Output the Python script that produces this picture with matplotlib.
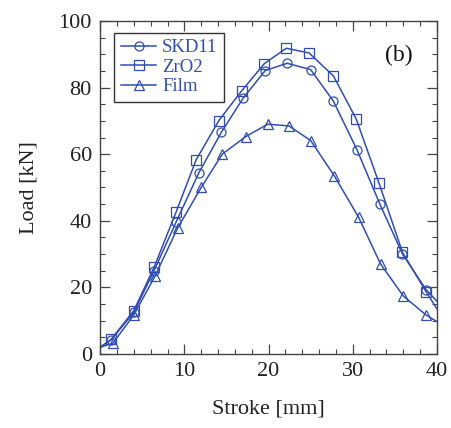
import matplotlib
matplotlib.use("Agg")
import matplotlib.pyplot as plt
from matplotlib.ticker import MultipleLocator

# stroke [mm] and load [kN] (first / last entries are line ends)
skd11_x = [0, 1.3, 4.0, 6.4, 9.0, 11.7, 14.4, 17.0, 19.6, 22.2, 25.0, 27.7, 30.5, 33.2, 35.9, 38.7, 40]
skd11_y = [2.0, 4.2, 12.5, 25.0, 39.5, 54.3, 66.6, 76.9, 85.1, 87.3, 85.4, 75.9, 61.3, 45.1, 30.0, 19.3, 15.8]

zro2_x = [0, 1.3, 4.0, 6.4, 9.0, 11.4, 14.1, 16.8, 19.5, 22.1, 24.8, 27.7, 30.4, 33.1, 35.9, 38.7, 40]
zro2_y = [2.0, 4.4, 13.0, 26.0, 42.5, 58.3, 70.1, 79.0, 87.2, 91.8, 90.4, 83.5, 70.6, 51.4, 30.5, 18.7, 13.5]

film_x = [0, 1.5, 4.0, 6.5, 9.2, 12.0, 14.5, 17.3, 19.9, 22.4, 25.0, 27.8, 30.7, 33.3, 36.0, 38.7, 40]
film_y = [2.0, 3.2, 11.7, 23.3, 37.8, 50.0, 60.0, 65.3, 69.0, 68.5, 64.1, 53.5, 41.0, 27.0, 17.4, 11.7, 9.7]

labels = ["SKD11", "ZrO2", "Film"]

blue = "#2f4db3"
plt.rcParams["font.family"] = ["Liberation Serif", "DejaVu Serif"]

fig = plt.figure(figsize=(4.51, 4.28), dpi=100)
ax = fig.add_axes([0.222, 0.173, 0.747, 0.778])

marks = slice(1, -1)
ax.plot(skd11_x, skd11_y, color=blue, lw=1.1, marker="o", ms=6.5, mfc="none",
        mec=blue, mew=0.9, markevery=marks, label=labels[0])
ax.plot(zro2_x, zro2_y, color=blue, lw=1.1, marker="s", ms=7, mfc="none",
        mec=blue, mew=0.9, markevery=marks, label=labels[1])
ax.plot(film_x, film_y, color=blue, lw=1.1, marker="^", ms=7.5, mfc="none",
        mec=blue, mew=0.9, markevery=marks, label=labels[2])

ax.set_xlim(0, 40)
ax.set_ylim(0, 100)
ax.xaxis.set_major_locator(MultipleLocator(10))
ax.xaxis.set_minor_locator(MultipleLocator(2))
ax.yaxis.set_major_locator(MultipleLocator(20))
ax.yaxis.set_minor_locator(MultipleLocator(5))
ax.tick_params(which="both", direction="in", top=True, right=True,
               color="#444444", labelsize=16, labelcolor="#222222")
ax.tick_params(which="major", length=7, width=0.9, pad=6)
ax.tick_params(which="minor", length=3.5, width=0.8)
for sp in ax.spines.values():
    sp.set_color("#444444")
    sp.set_linewidth(1.0)

ax.set_xlabel("Stroke [mm]", fontsize=16, color="#222222", labelpad=13)
ax.set_ylabel("Load [kN]", fontsize=16, color="#222222", labelpad=14)

ax.text(0.887, 0.895, "(b)", transform=ax.transAxes, fontsize=17,
        ha="center", va="center", color="#111111")

leg = ax.legend(loc="upper left", bbox_to_anchor=(0.042, 0.965), borderaxespad=0,
                fontsize=13.5, handlelength=1.9, labelspacing=0.12, handletextpad=0.3,
                borderpad=0.35, fancybox=False, framealpha=1, edgecolor="#333333")
leg.get_frame().set_linewidth(1.0)
for t in leg.get_texts():
    t.set_color(blue)

fig.savefig("out.png", dpi=100)
